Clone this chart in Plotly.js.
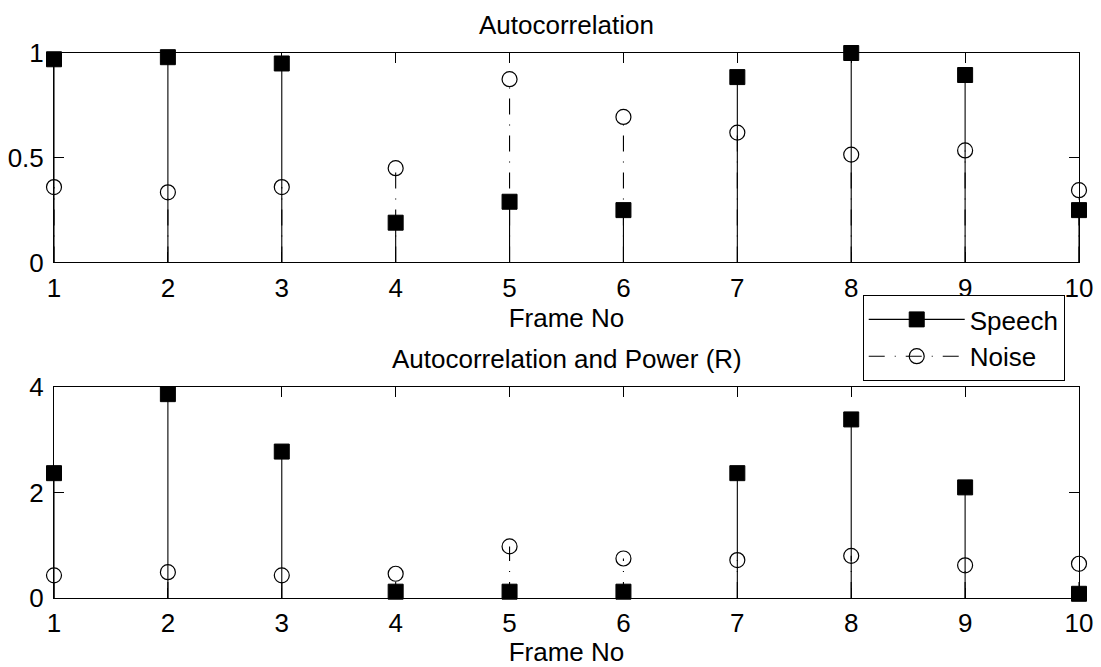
<!DOCTYPE html>
<html>
<head>
<meta charset="utf-8">
<script src="https://cdn.plot.ly/plotly-3.0.1.min.js"></script>
<style>html,body{margin:0;padding:0;background:#fff;}#chart{width:1101px;height:667px;}</style>
</head>
<body>
<div id="chart"></div>
<script>
// ---- data ----
var frames = [1, 2, 3, 4, 5, 6, 7, 8, 9, 10];
var speechAutocorr = [0.97, 0.98, 0.95, 0.19, 0.29, 0.25, 0.885, 1.0, 0.895, 0.25];
var noiseAutocorr  = [0.36, 0.335, 0.36, 0.45, 0.875, 0.695, 0.62, 0.515, 0.535, 0.345];
var speechPower = [2.37, 3.87, 2.78, 0.12, 0.12, 0.12, 2.37, 3.39, 2.1, 0.08];
var noisePower  = [0.43, 0.49, 0.43, 0.46, 0.98, 0.75, 0.72, 0.8, 0.62, 0.65];
var topTicks = [0, 0.5, 1];
var topTickText = ["0", "0.5", "1"];
var botTicks = [0, 2, 4];
var botTickText = ["0", "2", "4"];
var xTickText = ["1","2","3","4","5","6","7","8","9","10"];

var FONT = "Liberation Sans, Arial, Helvetica, sans-serif";
var FS = 26;
var DASHDOT = "16px,10px,1px,10px";

function stemXY(vals) {
  var x = [], y = [];
  frames.forEach(function (f, i) { x.push(f, f, null); y.push(0, vals[i], null); });
  return {x: x, y: y};
}
function gapXY(vals) {
  var x = [], y = [];
  frames.forEach(function (f, i) { x.push(f, null); y.push(vals[i], null); });
  return {x: x, y: y};
}

var traces = [];
function addPanel(sp, nz, xa, ya, legend) {
  var ns = stemXY(nz), ss = stemXY(sp);
  traces.push({x: ns.x, y: ns.y, xaxis: xa, yaxis: ya, mode: "lines",
    line: {color: "black", width: 1.1, dash: DASHDOT}, showlegend: false, hoverinfo: "skip"});
  traces.push({x: ss.x, y: ss.y, xaxis: xa, yaxis: ya, mode: "lines",
    line: {color: "black", width: 1.1}, showlegend: false, hoverinfo: "skip"});
  var nm = gapXY(nz), sm = gapXY(sp);
  traces.push({x: sm.x, y: sm.y, xaxis: xa, yaxis: ya, mode: "lines+markers", name: "Speech",
    connectgaps: false, cliponaxis: false, showlegend: legend, legendrank: 1,
    line: {color: "black", width: 1.1},
    marker: {symbol: "square", size: 15, color: "black", line: {color: "black", width: 1}}});
  traces.push({x: nm.x, y: nm.y, xaxis: xa, yaxis: ya, mode: "lines+markers", name: "Noise",
    connectgaps: false, cliponaxis: false, showlegend: legend, legendrank: 2,
    line: {color: "black", width: 1.1, dash: DASHDOT},
    marker: {symbol: "circle-open", size: 15, color: "black", line: {color: "black", width: 1.2}}});
}
addPanel(speechAutocorr, noiseAutocorr, "x", "y", true);
addPanel(speechPower, noisePower, "x2", "y2", false);

function xaxisDef(anchor) {
  return {
    anchor: anchor, range: [1, 10], tickmode: "array", tickvals: frames, ticktext: xTickText,
    ticks: "inside", ticklen: 10, tickwidth: 1, tickcolor: "black",
    showline: true, linecolor: "black", linewidth: 1, mirror: "ticks",
    showgrid: false, zeroline: false, ticklabelstandoff: 2,
    tickfont: {family: FONT, size: FS, color: "black"},
    title: {text: "Frame No", font: {family: FONT, size: FS, color: "black"}, standoff: 7}
  };
}
function yaxisDef(anchor, domain, range, tv, tt) {
  return {
    anchor: anchor, domain: domain, range: range, tickmode: "array", tickvals: tv, ticktext: tt,
    ticks: "inside", ticklen: 10, tickwidth: 1, tickcolor: "black",
    showline: true, linecolor: "black", linewidth: 1, mirror: "ticks",
    showgrid: false, zeroline: true, zerolinecolor: "black", zerolinewidth: 1,
    ticklabelstandoff: 4,
    tickfont: {family: FONT, size: FS, color: "black"}
  };
}

var layout = {
  width: 1101, height: 667,
  margin: {l: 53.5, r: 21.5, t: 53, b: 69},
  paper_bgcolor: "white", plot_bgcolor: "white",
  font: {family: FONT, size: FS, color: "black"},
  showlegend: true,
  legend: {x: 0.789, y: 0.556, xanchor: "left", yanchor: "top",
    bordercolor: "black", borderwidth: 1, bgcolor: "white",
    font: {family: FONT, size: FS, color: "black"}, itemwidth: 96, tracegroupgap: 0},
  xaxis: xaxisDef("y"),
  yaxis: yaxisDef("x", [0.6156, 1], [0, 1], topTicks, topTickText),
  xaxis2: xaxisDef("y2"),
  yaxis2: yaxisDef("x2", [0, 0.3866], [0, 4], botTicks, botTickText),
  annotations: [
    {text: "Autocorrelation", xref: "paper", yref: "paper", x: 0.5, y: 1, xanchor: "center", yanchor: "bottom",
     yshift: 11, showarrow: false, font: {family: FONT, size: FS, color: "black"}},
    {text: "Autocorrelation and Power (R)", xref: "paper", yref: "paper", x: 0.5, y: 0.3866, xanchor: "center", yanchor: "bottom",
     yshift: 11, showarrow: false, font: {family: FONT, size: FS, color: "black"}}
  ]
};

Plotly.newPlot("chart", traces, layout, {displayModeBar: false, staticPlot: true});
</script>
</body>
</html>
